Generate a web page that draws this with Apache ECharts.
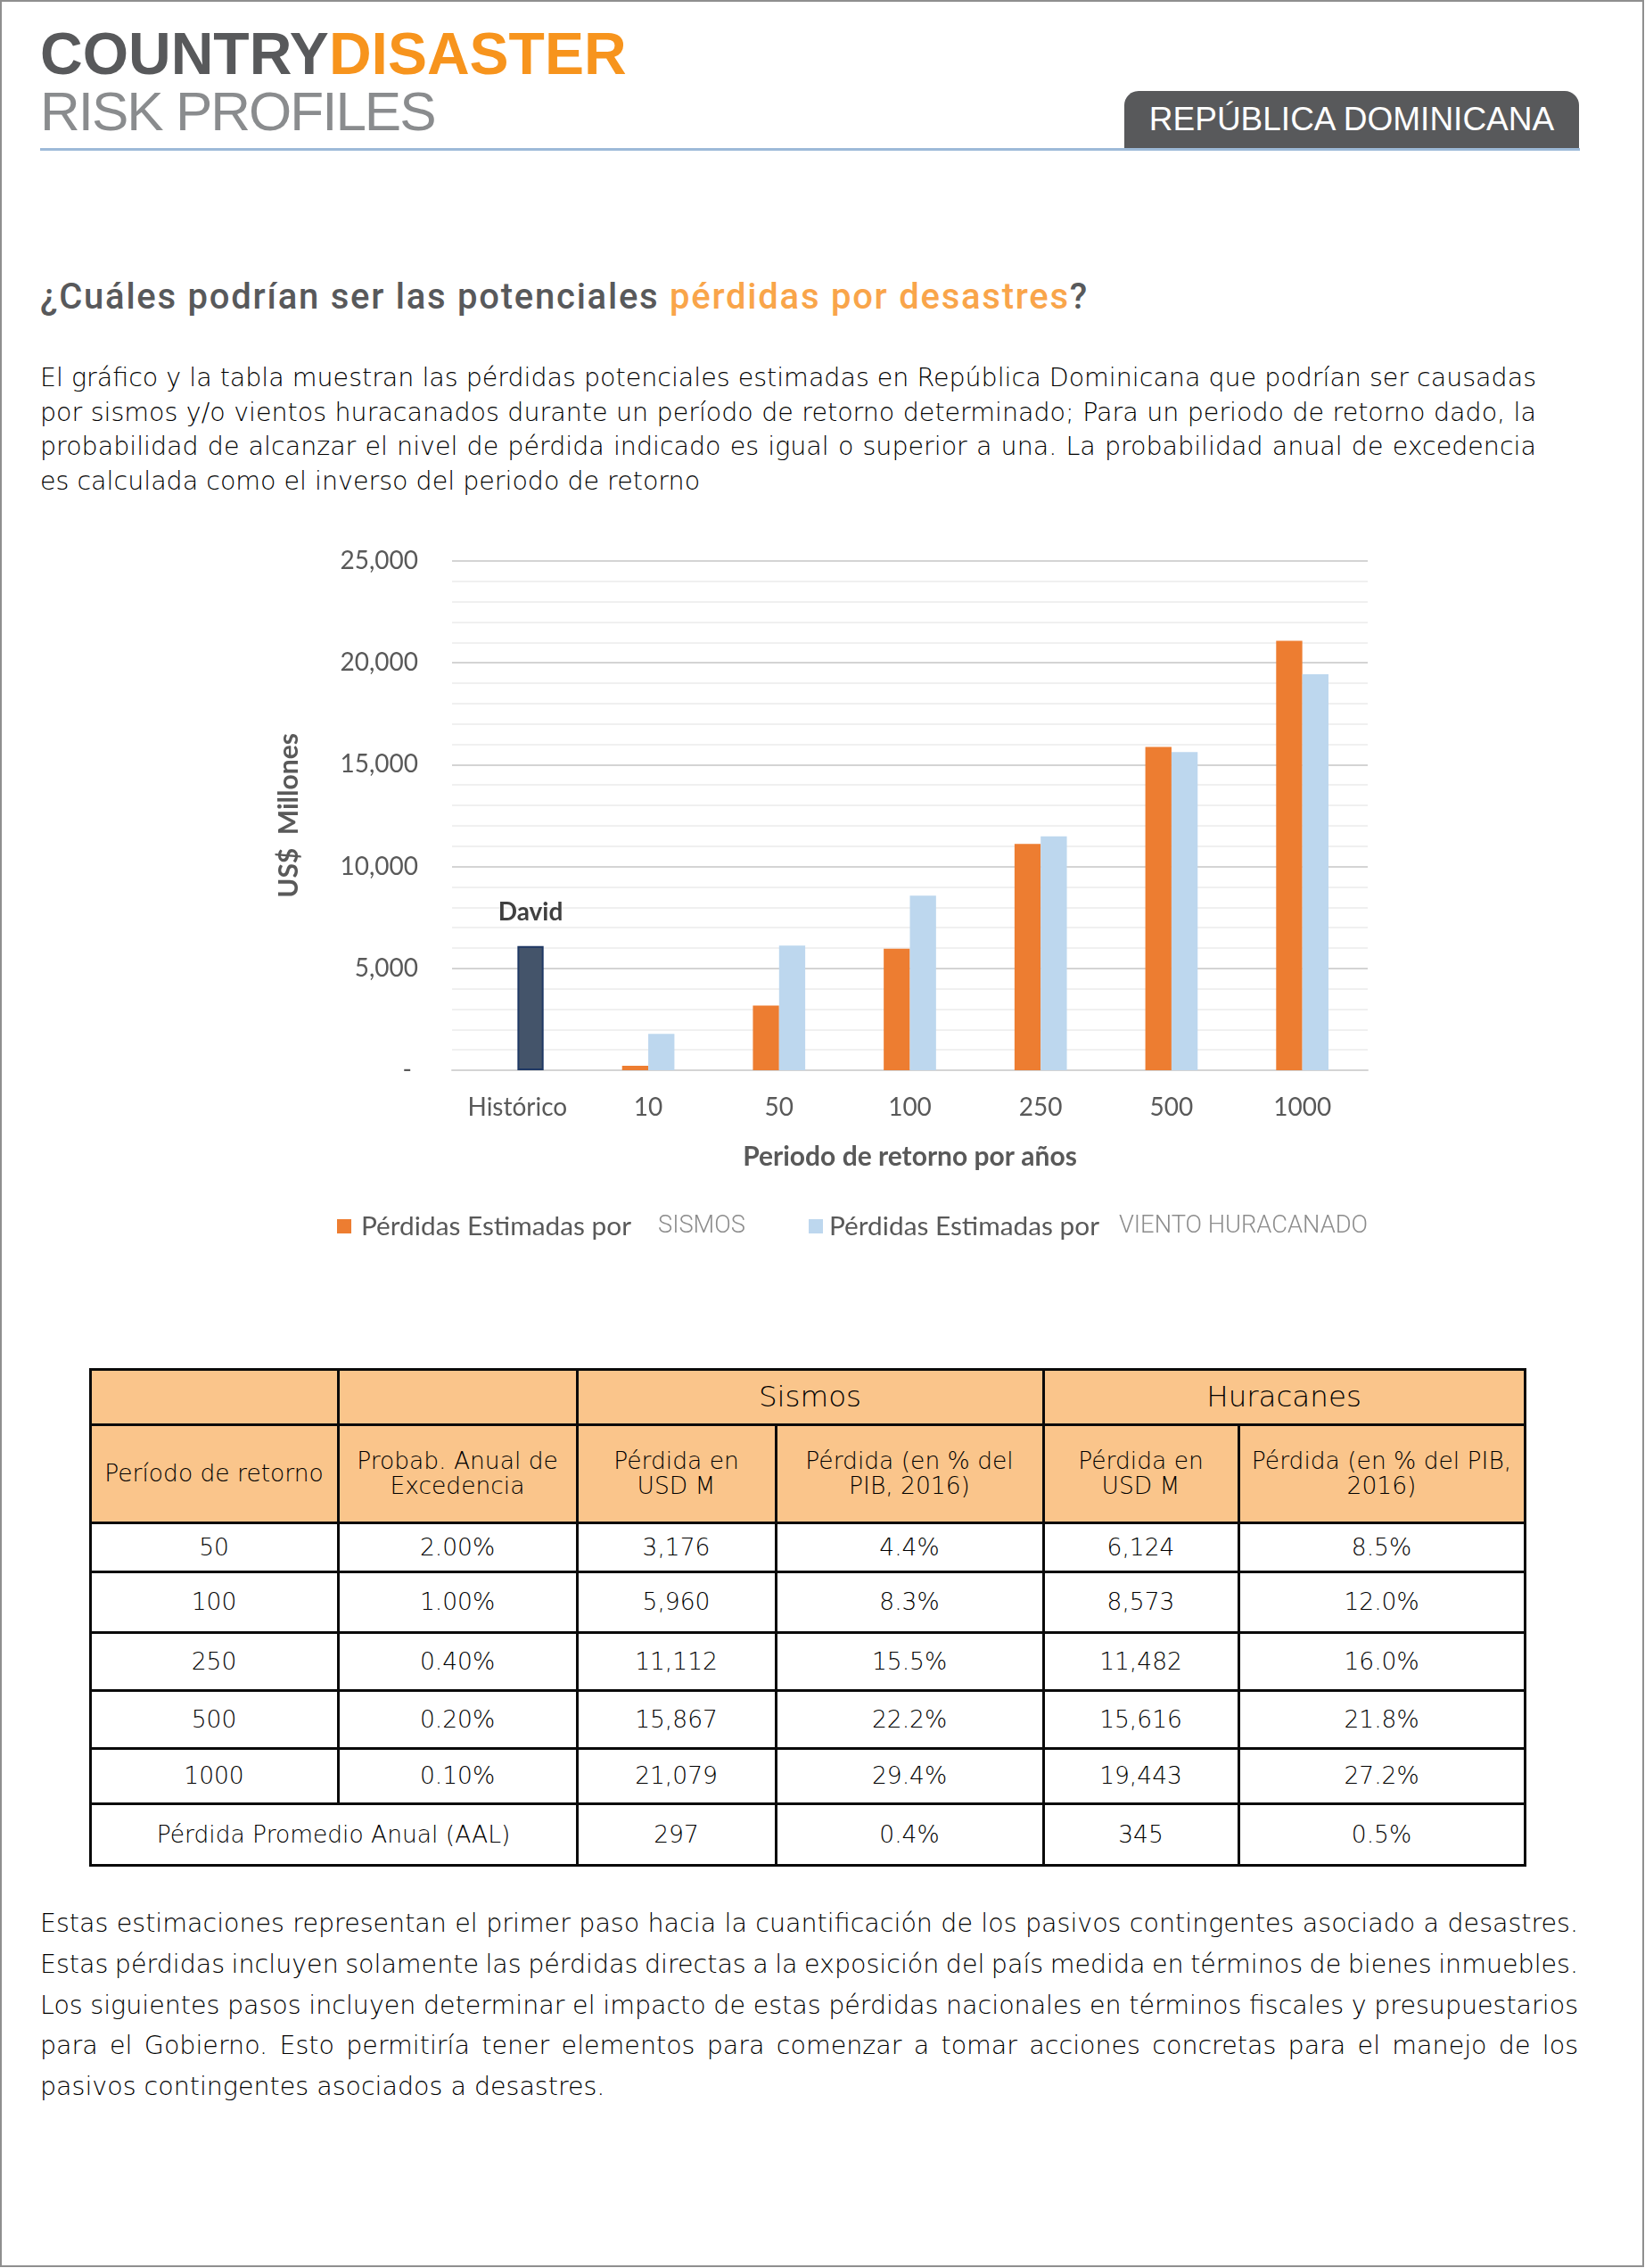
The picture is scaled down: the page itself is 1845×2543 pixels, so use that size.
<!DOCTYPE html>
<html>
<head>
<meta charset="utf-8">
<script src="https://cdn.jsdelivr.net/npm/echarts@6/dist/echarts.min.js"></script>
<style>
html,body{margin:0;padding:0;background:#fff;}
#page{position:relative;width:1845px;height:2543px;overflow:hidden;background:#fff;}
.frame{position:absolute;left:0;top:0;width:1840px;height:2538px;border:2px solid #8f8f8f;}
.abs{position:absolute;white-space:nowrap;}
.body{position:absolute;left:45px;font-family:"DejaVu Sans",sans-serif;font-weight:200;font-size:28.5px;color:#000;}
.line{display:block;white-space:nowrap;}
.cell{position:absolute;display:flex;align-items:center;justify-content:center;text-align:center;font-family:"DejaVu Sans",sans-serif;font-weight:200;font-size:26.5px;line-height:28px;color:#000;}
.hl{position:absolute;height:3px;background:#0a0a0a;}
.vl{position:absolute;width:3px;background:#0a0a0a;}
</style>
</head>
<body>
<div id="page">
  <div class="frame"></div>

  <div class="abs" style="left:45px;top:27px;font-family:'Liberation Sans',Arial,sans-serif;font-weight:bold;font-size:66px;line-height:66px;"><span style="color:#58595b">COUNTRY</span><span style="color:#f7941d">DISASTER</span></div>
  <div class="abs" style="left:45px;top:94px;font-family:'Liberation Sans',Arial,sans-serif;font-size:62px;line-height:62px;letter-spacing:-2px;color:#8a8c8e;">RISK PROFILES</div>
  <div class="abs" style="left:1261px;top:102px;width:510px;height:65px;background:#58595b;border-radius:16px 16px 0 0;"></div>
  <div class="abs" style="left:1261px;top:109px;width:510px;height:50px;line-height:50px;text-align:center;font-family:'Liberation Sans',Arial,sans-serif;font-size:37px;color:#fff;">REPÚBLICA DOMINICANA</div>
  <div class="abs" style="left:45px;top:166px;width:1727px;height:3px;background:#9dbad8;"></div>

  <div id="title" class="abs" style="left:45px;top:313px;font-family:Roboto,sans-serif;font-weight:500;font-size:40px;line-height:40px;color:#58595b;"><span id="titleSpan">¿Cuáles podrían ser las potenciales <span style="color:#f9a54a">pérdidas por desastres</span>?</span></div>

  <div class="body" data-w="1678" style="top:405px;width:1678px;line-height:38.5px;">
    <div class="line"><span>El gráfico y la tabla muestran las pérdidas potenciales estimadas en República Dominicana que podrían ser causadas</span></div>
    <div class="line"><span>por sismos y/o vientos huracanados durante un período de retorno determinado; Para un periodo de retorno dado, la</span></div>
    <div class="line"><span>probabilidad de alcanzar el nivel de pérdida indicado es igual o superior a una. La probabilidad anual de excedencia</span></div>
    <div class="line last"><span>es calculada como el inverso del periodo de retorno</span></div>
  </div>

  <div id="chart" style="position:absolute;left:0;top:560px;width:1845px;height:880px;"></div>

  <div id="table"></div>

  <div class="body" data-w="1725" style="top:2134px;width:1725px;line-height:45.8px;">
    <div class="line"><span>Estas estimaciones representan el primer paso hacia la cuantificación de los pasivos contingentes asociado a desastres.</span></div>
    <div class="line"><span>Estas pérdidas incluyen solamente las pérdidas directas a la exposición del país medida en términos de bienes inmuebles.</span></div>
    <div class="line"><span>Los siguientes pasos incluyen determinar el impacto de estas pérdidas nacionales en términos fiscales y presupuestarios</span></div>
    <div class="line"><span>para el Gobierno. Esto permitiría tener elementos para comenzar a tomar acciones concretas para el manejo de los</span></div>
    <div class="line last"><span>pasivos contingentes asociados a desastres.</span></div>
  </div>
</div>

<script>
// ---------- chart data ----------
const categories = ['Histórico', '10', '50', '100', '250', '500', '1000'];
const sismosLoss = [null, 220, 3176, 5960, 11112, 15867, 21079];
const vientoLoss = [null, 1780, 6124, 8573, 11482, 15616, 19443];
const historicLoss = 6100;
const historicName = 'David';

// ---------- table data ----------
const tablePeriods = ['50', '100', '250', '500', '1000'];
const tableProb = ['2.00%', '1.00%', '0.40%', '0.20%', '0.10%'];
const tableSismosUSD = [3176, 5960, 11112, 15867, 21079];
const tableSismosPIB = ['4.4%', '8.3%', '15.5%', '22.2%', '29.4%'];
const tableHuracUSD = [6124, 8573, 11482, 15616, 19443];
const tableHuracPIB = ['8.5%', '12.0%', '16.0%', '21.8%', '27.2%'];
const aalRow = ['Pérdida Promedio Anual (AAL)', 297, '0.4%', 345, '0.5%'];

// ---------- text fitting (justify lines, fit title width) ----------
function fitText() {
  document.querySelectorAll('.body').forEach(b => {
    const W = parseFloat(b.dataset.w);
    b.querySelectorAll('.line').forEach(l => {
      if (l.classList.contains('last')) return;
      const s = l.querySelector('span');
      s.style.wordSpacing = '0px';
      const w = s.getBoundingClientRect().width;
      const n = (s.textContent.match(/ /g) || []).length;
      if (n) s.style.wordSpacing = ((W - w) / n) + 'px';
    });
  });
  const t = document.getElementById('title');
  const ts = document.getElementById('titleSpan');
  t.style.letterSpacing = '0px';
  const tw = ts.getBoundingClientRect().width;
  const nch = ts.textContent.length;
  t.style.letterSpacing = ((1176 - tw) / nch) + 'px';
}
fitText();
if (document.fonts && document.fonts.ready) document.fonts.ready.then(fitText);

// ---------- chart ----------
const chart = echarts.init(document.getElementById('chart'), null, {renderer: 'canvas'});
const vientoData = vientoLoss.slice();
vientoData[0] = {
  value: historicLoss,
  itemStyle: {color: '#44546A', borderColor: '#1F3864', borderWidth: 2},
  label: {show: true, position: 'top', distance: 24, formatter: historicName,
          fontFamily: 'Lato', fontWeight: 'bold', fontSize: 28, color: '#404040'}
};
const fmt = v => v === 0 ? '- ' : v.toLocaleString('en-US');
chart.setOption({
  animation: false,
  grid: {left: 507, right: 311, top: 69, bottom: 240, containLabel: false},
  legend: [
    {data: ['Pérdidas Estimadas por SISMOS'], left: 373, top: 795, itemWidth: 16, itemHeight: 16,
     icon: 'rect', formatter: () => '{a|Pérdidas Estimadas por}{b|SISMOS}',
     textStyle: {rich: {
       a: {fontFamily: 'Lato', fontSize: 29.8, color: '#595959', padding: [0, 0, 0, 6]},
       b: {fontFamily: 'Roboto', fontWeight: 300, fontSize: 27.3, color: '#8c8c8c', padding: [0, 0, 0, 30]}}}},
    {data: ['Pérdidas Estimadas por VIENTO HURACANADO'], left: 902, top: 795, itemWidth: 16, itemHeight: 16,
     icon: 'rect', formatter: () => '{a|Pérdidas Estimadas por}{b|VIENTO HURACANADO}',
     textStyle: {rich: {
       a: {fontFamily: 'Lato', fontSize: 29.8, color: '#595959', padding: [0, 0, 0, 2]},
       b: {fontFamily: 'Roboto', fontWeight: 300, fontSize: 27.3, color: '#8c8c8c', padding: [0, 0, 0, 22]}}}}
  ],
  xAxis: {
    type: 'category', data: categories,
    axisTick: {show: false},
    axisLine: {lineStyle: {color: '#d4d4d4', width: 2}},
    axisLabel: {fontFamily: 'Lato', fontSize: 28, color: '#595959', margin: 28},
    name: 'Periodo de retorno por años', nameLocation: 'middle', nameGap: 82,
    nameTextStyle: {fontFamily: 'Lato', fontWeight: 'bold', fontSize: 30, color: '#595959'}
  },
  yAxis: {
    type: 'value', min: 0, max: 25000, interval: 5000,
    axisLine: {show: false}, axisTick: {show: false},
    axisLabel: {fontFamily: 'Lato', fontSize: 28, color: '#595959', margin: 38, formatter: fmt},
    splitLine: {lineStyle: {color: '#d4d4d4', width: 2}},
    minorTick: {show: false, splitNumber: 5},
    minorSplitLine: {show: true, lineStyle: {color: '#f0f0f0', width: 2}},
    name: 'US$  Millones', nameLocation: 'middle', nameGap: 168, nameRotate: 90,
    nameTextStyle: {fontFamily: 'Lato', fontWeight: 'bold', fontSize: 30, color: '#595959'}
  },
  series: [
    {name: 'Pérdidas Estimadas por SISMOS', type: 'bar', data: sismosLoss,
     itemStyle: {color: '#ED7D31'}, barGap: '0%', barCategoryGap: '60%'},
    {name: 'Pérdidas Estimadas por VIENTO HURACANADO', type: 'bar', data: vientoData,
     itemStyle: {color: '#BDD7EE'}, barGap: '0%', barCategoryGap: '60%'}
  ]
});

// ---------- table ----------
const colX = [101, 379, 647, 870, 1170, 1389, 1710];
const rowY = [1535, 1597, 1707, 1762, 1830, 1895, 1960, 2022, 2091];
const tbl = document.getElementById('table');
const HDR = '#fac58b';
function cell(c0, c1, r, html, bg, extra) {
  const d = document.createElement('div');
  d.className = 'cell';
  d.style.left = colX[c0] + 'px';
  d.style.top = rowY[r] + 'px';
  d.style.width = (colX[c1] - colX[c0]) + 'px';
  d.style.height = (rowY[r + 1] - rowY[r]) + 'px';
  d.style.background = bg;
  if (extra) Object.assign(d.style, extra);
  d.innerHTML = html;
  tbl.appendChild(d);
}
const big = {fontSize: '32.5px'};
cell(0, 1, 0, '', HDR); cell(1, 2, 0, '', HDR);
cell(2, 4, 0, 'Sismos', HDR, big); cell(4, 6, 0, 'Huracanes', HDR, big);
const sub = ['Período de retorno', 'Probab. Anual de<br>Excedencia', 'Pérdida en<br>USD M',
             'Pérdida (en % del<br>PIB, 2016)', 'Pérdida en<br>USD M', 'Pérdida (en % del PIB,<br>2016)'];
sub.forEach((t, i) => cell(i, i + 1, 1, t, HDR));
const nf = v => v.toLocaleString('en-US');
tablePeriods.forEach((p, k) => {
  const r = k + 2;
  [p, tableProb[k], nf(tableSismosUSD[k]), tableSismosPIB[k], nf(tableHuracUSD[k]), tableHuracPIB[k]]
    .forEach((t, i) => cell(i, i + 1, r, t, '#fff'));
});
cell(0, 2, 7, aalRow[0], '#fff');
cell(2, 3, 7, nf(aalRow[1]), '#fff'); cell(3, 4, 7, aalRow[2], '#fff');
cell(4, 5, 7, nf(aalRow[3]), '#fff'); cell(5, 6, 7, aalRow[4], '#fff');
rowY.forEach(y => {
  const h = document.createElement('div'); h.className = 'hl';
  h.style.left = (colX[0] - 1) + 'px'; h.style.top = (y - 1) + 'px';
  h.style.width = (colX[6] - colX[0] + 3) + 'px'; tbl.appendChild(h);
});
function vline(x, r0, r1) {
  const v = document.createElement('div'); v.className = 'vl';
  v.style.left = (x - 1) + 'px'; v.style.top = (rowY[r0] - 1) + 'px';
  v.style.height = (rowY[r1] - rowY[r0] + 3) + 'px'; tbl.appendChild(v);
}
vline(colX[0], 0, 8); vline(colX[1], 0, 7); vline(colX[2], 0, 8);
vline(colX[3], 1, 8); vline(colX[4], 0, 8); vline(colX[5], 1, 8); vline(colX[6], 0, 8);
</script>
</body>
</html>
